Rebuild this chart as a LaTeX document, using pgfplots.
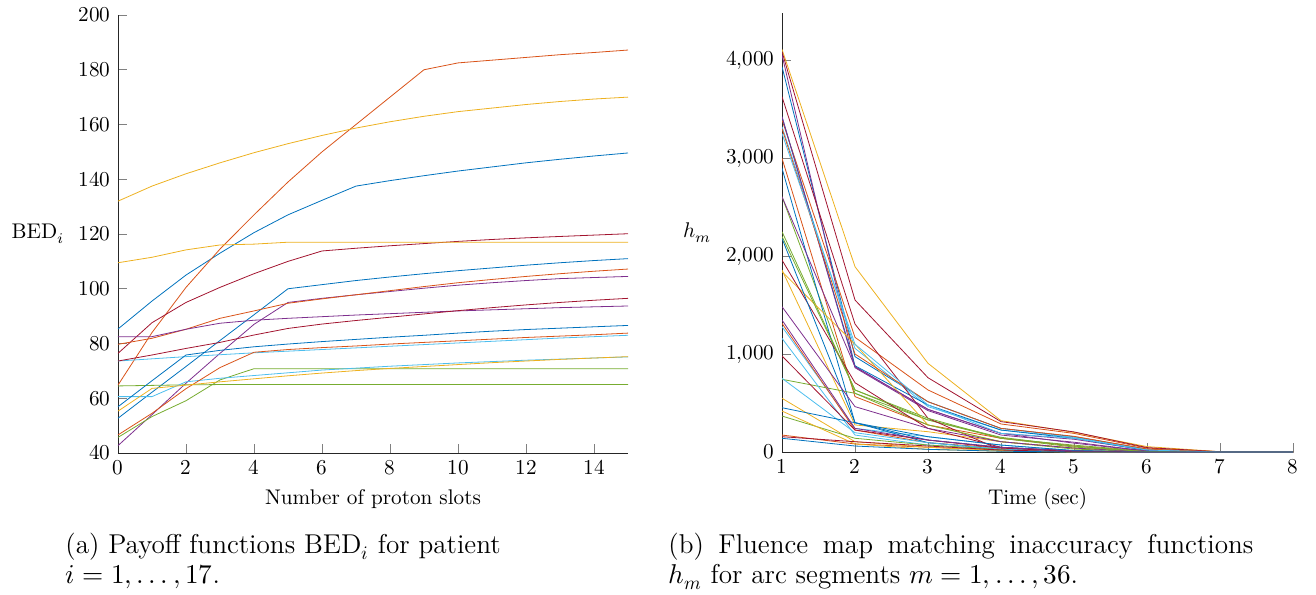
\documentclass[border=0pt]{standalone}
\usepackage{fontspec}
\usepackage{unicode-math}
\setmathfont{Latin Modern Math}
\usepackage{pgfplots}
\pgfplotsset{compat=1.18}
\definecolor{mblue}{RGB}{0,114,189}
\definecolor{morange}{RGB}{217,83,25}
\definecolor{myellow}{RGB}{237,177,32}
\definecolor{mpurple}{RGB}{126,47,142}
\definecolor{mgreen}{RGB}{119,172,48}
\definecolor{mcyan}{RGB}{77,190,238}
\definecolor{mdarkred}{RGB}{162,20,47}
\pgfplotscreateplotcyclelist{matlab}{{mblue},{morange},{myellow},{mpurple},{mgreen},{mcyan},{mdarkred}}
\newcommand{\dts}{\mathinner{\mathpunct{.}\mathpunct{.}\mathpunct{.}}}
\pgfplotsset{
  myax/.style={
    scale only axis,
    axis x line*=bottom, axis y line*=left,
    tick align=inside,
    tick style={gray, thin},
    axis line style={black!85},
    cycle list name=matlab,
    ylabel style={rotate=-90},
    scaled ticks=false,
    clip=true,
    font=\fontsize{10.6pt}{12.7pt}\selectfont,
  }
}
\begin{document}
\fontsize{10.6pt}{12.7pt}\selectfont
\begin{tikzpicture}
\begin{axis}[myax, at={(0pt,0pt)}, anchor=south west,
  width=255pt, height=219pt,
  xmin=0, xmax=15, ymin=40, ymax=200,
  xtick={0,2,...,14}, ytick={40,60,...,200},
  xlabel={Number of proton slots}, ylabel={$\mathrm{BED}_i$}]
\addplot coordinates {(0,85.3)(1,95.5)(2,105)(3,113)(4,120.5)(5,127)(6,132.3)(7,137.5)(8,139.5)(9,141.3)(10,143)(11,144.5)(12,146)(13,147.3)(14,148.5)(15,149.6)};
\addplot coordinates {(0,64.8)(1,84)(2,100.5)(3,114.5)(4,127)(5,139)(6,150)(7,160)(8,170)(9,180)(10,182.5)(11,183.5)(12,184.5)(13,185.5)(14,186.3)(15,187.2)};
\addplot coordinates {(0,132)(1,137.5)(2,142)(3,146)(4,149.7)(5,153)(6,156)(7,158.7)(8,161)(9,163)(10,164.7)(11,166)(12,167.3)(13,168.4)(14,169.3)(15,170)};
\addplot coordinates {(0,42.7)(1,54)(2,65.5)(3,76.4)(4,87)(5,95)(6,96.5)(7,97.8)(8,99)(9,100.2)(10,101.3)(11,102.2)(12,103)(13,103.7)(14,104.1)(15,104.5)};
\addplot coordinates {(0,45.7)(1,53.3)(2,59.1)(3,66.7)(4,70.8)(5,70.8)(6,70.8)(7,70.8)(8,70.8)(9,70.8)(10,70.8)(11,70.8)(12,70.8)(13,70.8)(14,70.8)(15,70.8)};
\addplot coordinates {(0,73.6)(1,74.4)(2,75.2)(3,75.9)(4,76.6)(5,77.2)(6,77.8)(7,78.4)(8,79)(9,79.6)(10,80.2)(11,80.8)(12,81.4)(13,82)(14,82.5)(15,83)};
\addplot coordinates {(0,76.4)(1,87.6)(2,95)(3,100.5)(4,105.5)(5,110)(6,113.8)(7,114.8)(8,115.7)(9,116.5)(10,117.3)(11,118)(12,118.6)(13,119.1)(14,119.6)(15,120.1)};
\addplot coordinates {(0,52.7)(1,62.2)(2,71.6)(3,81.1)(4,90.5)(5,100)(6,101.5)(7,103)(8,104.3)(9,105.5)(10,106.6)(11,107.6)(12,108.6)(13,109.5)(14,110.3)(15,111)};
\addplot coordinates {(0,79.7)(1,81.9)(2,85.2)(3,89.2)(4,91.9)(5,94.7)(6,96.3)(7,97.8)(8,99.3)(9,100.8)(10,102.2)(11,103.4)(12,104.5)(13,105.5)(14,106.4)(15,107.2)};
\addplot coordinates {(0,109.5)(1,111.5)(2,114.2)(3,116)(4,116.3)(5,117)(6,117)(7,117)(8,117)(9,117)(10,117)(11,117)(12,117)(13,117)(14,117)(15,117)};
\addplot coordinates {(0,82.5)(1,82.5)(2,85.2)(3,87.4)(4,88.5)(5,89.2)(6,89.8)(7,90.4)(8,90.9)(9,91.4)(10,91.9)(11,92.3)(12,92.7)(13,93.1)(14,93.4)(15,93.7)};
\addplot coordinates {(0,64.5)(1,64.7)(2,64.9)(3,65)(4,65)(5,65)(6,65)(7,65)(8,65)(9,65)(10,65)(11,65)(12,65)(13,65)(14,65)(15,65)};
\addplot coordinates {(0,60.6)(1,60.6)(2,66)(3,67.3)(4,68.3)(5,69.3)(6,70.3)(7,71)(8,71.7)(9,72.3)(10,72.9)(11,73.4)(12,73.9)(13,74.3)(14,74.7)(15,75.1)};
\addplot coordinates {(0,73.6)(1,75.8)(2,78.2)(3,80.4)(4,83.1)(5,85.5)(6,87.1)(7,88.4)(8,89.6)(9,90.8)(10,92)(11,93.1)(12,94.1)(13,95)(14,95.8)(15,96.5)};
\addplot coordinates {(0,56.9)(1,66.4)(2,75.8)(3,77.5)(4,78.8)(5,79.8)(6,80.7)(7,81.5)(8,82.3)(9,83)(10,83.8)(11,84.5)(12,85.1)(13,85.6)(14,86.1)(15,86.6)};
\addplot coordinates {(0,46.6)(1,54.5)(2,63.5)(3,71.2)(4,76.8)(5,77.8)(6,78.5)(7,79.1)(8,79.8)(9,80.4)(10,81)(11,81.6)(12,82.2)(13,82.7)(14,83.2)(15,83.8)};
\addplot coordinates {(0,55.3)(1,63.6)(2,64.8)(3,66)(4,67.1)(5,68.2)(6,69.2)(7,70.1)(8,70.9)(9,71.6)(10,72.3)(11,73)(12,73.6)(13,74.2)(14,74.7)(15,75.2)};
\end{axis}
\begin{axis}[myax, at={(332pt,0.5pt)}, anchor=south west,
  width=255.5pt, height=219.5pt,
  xmin=1, xmax=8, ymin=0, ymax=4480,
  xtick={1,...,8}, ytick={0,1000,...,4000},
  xlabel={Time (sec)}, ylabel={$h_m$}]
\addplot coordinates {(1,3932)(2,973)(3,513)(4,241)(5,156)(6,30)(7,2)(8,0)};
\addplot coordinates {(1,3388)(2,1170)(3,633)(4,286)(5,190)(6,40)(7,2)(8,0)};
\addplot coordinates {(1,4109)(2,1891)(3,905)(4,320)(5,200)(6,55)(7,3)(8,0)};
\addplot coordinates {(1,4051)(2,870)(3,435)(4,190)(5,130)(6,20)(7,1)(8,0)};
\addplot coordinates {(1,2248)(2,633)(3,327)(4,140)(5,70)(6,10)(7,0)(8,0)};
\addplot coordinates {(1,3320)(2,1058)(3,463)(4,224)(5,150)(6,25)(7,1)(8,0)};
\addplot coordinates {(1,4085)(2,1551)(3,758)(4,310)(5,205)(6,45)(7,3)(8,0)};
\addplot coordinates {(1,3422)(2,880)(3,480)(4,224)(5,140)(6,15)(7,0)(8,0)};
\addplot coordinates {(1,2997)(2,565)(3,276)(4,140)(5,60)(6,5)(7,0)(8,0)};
\addplot coordinates {(1,1857)(2,276)(3,207)(4,105)(5,40)(6,3)(7,0)(8,0)};
\addplot coordinates {(1,3422)(2,860)(3,422)(4,173)(5,100)(6,10)(7,0)(8,0)};
\addplot coordinates {(1,2605)(2,599)(3,327)(4,150)(5,60)(6,5)(7,0)(8,0)};
\addplot coordinates {(1,1279)(2,241)(3,156)(4,71)(5,15)(6,0)(7,0)(8,0)};
\addplot coordinates {(1,3626)(2,1306)(3,344)(4,20)(5,10)(6,0)(7,0)(8,0)};
\addplot coordinates {(1,2895)(2,299)(3,122)(4,48)(5,12)(6,0)(7,0)(8,0)};
\addplot coordinates {(1,1313)(2,224)(3,95)(4,40)(5,8)(6,0)(7,0)(8,0)};
\addplot coordinates {(1,1840)(2,1100)(3,276)(4,105)(5,40)(6,3)(7,0)(8,0)};
\addplot coordinates {(1,2605)(2,870)(3,435)(4,190)(5,90)(6,10)(7,0)(8,0)};
\addplot coordinates {(1,742)(2,599)(3,276)(4,105)(5,30)(6,2)(7,0)(8,0)};
\addplot coordinates {(1,1160)(2,173)(3,71)(4,27)(5,5)(6,0)(7,0)(8,0)};
\addplot coordinates {(1,1959)(2,707)(3,241)(4,48)(5,10)(6,0)(7,0)(8,0)};
\addplot coordinates {(1,2180)(2,299)(3,95)(4,27)(5,5)(6,0)(7,0)(8,0)};
\addplot coordinates {(1,173)(2,82)(3,48)(4,20)(5,3)(6,0)(7,0)(8,0)};
\addplot coordinates {(1,548)(2,105)(3,48)(4,15)(5,0)(6,0)(7,0)(8,0)};
\addplot coordinates {(1,1483)(2,463)(3,241)(4,105)(5,40)(6,3)(7,0)(8,0)};
\addplot coordinates {(1,367)(2,140)(3,71)(4,27)(5,3)(6,0)(7,0)(8,0)};
\addplot coordinates {(1,752)(2,197)(3,95)(4,30)(5,3)(6,0)(7,0)(8,0)};
\addplot coordinates {(1,980)(2,224)(3,122)(4,40)(5,5)(6,0)(7,0)(8,0)};
\addplot coordinates {(1,452)(2,299)(3,156)(4,71)(5,15)(6,0)(7,0)(8,0)};
\addplot coordinates {(1,3300)(2,1000)(3,513)(4,241)(5,160)(6,30)(7,1)(8,0)};
\addplot coordinates {(1,418)(2,82)(3,27)(4,8)(5,0)(6,0)(7,0)(8,0)};
\addplot coordinates {(1,1347)(2,241)(3,122)(4,48)(5,10)(6,0)(7,0)(8,0)};
\addplot coordinates {(1,2200)(2,633)(3,344)(4,140)(5,50)(6,5)(7,0)(8,0)};
\addplot coordinates {(1,3250)(2,1100)(3,480)(4,190)(5,140)(6,20)(7,0)(8,0)};
\addplot coordinates {(1,156)(2,105)(3,61)(4,20)(5,3)(6,0)(7,0)(8,0)};
\addplot coordinates {(1,140)(2,61)(3,27)(4,8)(5,0)(6,0)(7,0)(8,0)};
\end{axis}
\node[anchor=base west, align=left, inner sep=0pt, font={\fontsize{13.6pt}{15pt}\selectfont}] at (-26.5pt,-65pt)
  {(a) Payoff functions BED$_i$ for patient\\ $i=1,\dts,17$.};
\node[anchor=base west, align=left, inner sep=0pt, font={\fontsize{13.6pt}{15pt}\selectfont}] at (275pt,-65pt)
  {\makebox[292.5pt][s]{(b) Fluence map matching inaccuracy functions}\\ $h_m$ for arc segments $m=1,\dts,36$.};
\pgfresetboundingbox
\path[use as bounding box] (-59pt,-70.5pt) rectangle (599pt,226.5pt);
\end{tikzpicture}
\end{document}
